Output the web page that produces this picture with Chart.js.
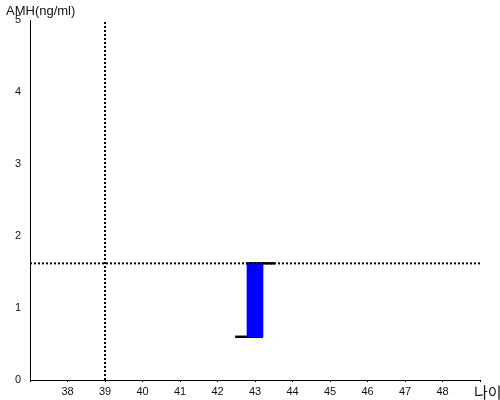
<!DOCTYPE html>
<html>
<head>
<meta charset="utf-8">
<script src="https://cdn.jsdelivr.net/npm/chart.js@4"></script>
<style>
  body { margin: 0; background: #fff; }
  #wrap { width: 500px; height: 400px; position: relative; }
</style>
</head>
<body>
<div id="wrap"><canvas id="myChart"></canvas></div>
<script>
// values
let xMin = 37, xMax = 49;
let yMin = 0, yMax = 5;
let barAge = 43;
let amhLow = 0.6;
let amhHigh = 1.62;
let refAge = 39;
let refAmh = 1.62;
let topCap = [42.76, 43.53];
let bottomCap = [42.47, 43.21];

let yTitle = 'AMH(ng/ml)';
let xTitle = '나이';

// axis titles drawn in the corners like the original
let cornerText = {
    id: 'cornerText',
    afterDraw(chart) {
        let c = chart.ctx;
        c.save();
        c.fillStyle = '#111';
        c.textBaseline = 'alphabetic';
        c.font = '13px "Liberation Sans", Arial, sans-serif';
        c.textAlign = 'left';
        c.fillText(yTitle, 6, 15);
        c.font = '15px "Noto Sans CJK KR", sans-serif';
        c.fillText(xTitle, 474, 398);
        c.restore();
    }
};

let ctx = document.getElementById('myChart');
let myChart = new Chart(ctx, {
    type: 'bar',
    data: {
        datasets: [
            {
                type: 'line',
                data: [{x: refAge, y: yMin}, {x: refAge, y: yMax}],
                borderColor: '#000',
                borderWidth: 2,
                borderDash: [2, 2],
                pointRadius: 0
            },
            {
                type: 'line',
                data: [{x: xMin, y: refAmh}, {x: xMax, y: refAmh}],
                borderColor: '#000',
                borderWidth: 2,
                borderDash: [2, 2],
                pointRadius: 0
            },
            {
                data: [{x: barAge, y: [amhLow, amhHigh]}],
                backgroundColor: '#0000ff',
                borderWidth: 0,
                barThickness: 16
            },
            {
                type: 'line',
                data: [{x: topCap[0], y: amhHigh}, {x: topCap[1], y: amhHigh}],
                borderColor: '#000',
                borderWidth: 2.5,
                pointRadius: 0
            },
            {
                type: 'line',
                data: [{x: bottomCap[0], y: amhLow}, {x: bottomCap[1], y: amhLow}],
                borderColor: '#000',
                borderWidth: 2.5,
                pointRadius: 0
            }
        ]
    },
    options: {
        responsive: true,
        maintainAspectRatio: false,
        animation: false,
        layout: { padding: { top: 20, right: 20, left: 0, bottom: 0 } },
        plugins: { legend: { display: false }, tooltip: { enabled: false } },
        scales: {
            x: {
                type: 'linear',
                min: xMin,
                max: xMax,
                offset: false,
                grid: { offset: false, drawOnChartArea: false, drawTicks: true, tickLength: 2, color: '#000' },
                border: { display: true, color: '#000', width: 1 },
                ticks: {
                    stepSize: 1,
                    padding: 3,
                    color: '#111',
                    font: { family: '"Liberation Sans", Arial, sans-serif', size: 11 },
                    callback: function (v) {
                        if (v == xMin || v == xMax) return '';
                        return v;
                    }
                },
                afterFit: function (scale) { scale.height = 20; }
            },
            y: {
                min: yMin,
                max: yMax,
                grid: { display: false, drawTicks: false },
                border: { display: true, color: '#000', width: 1 },
                ticks: {
                    stepSize: 1,
                    padding: 9,
                    color: '#111',
                    font: { family: '"Liberation Sans", Arial, sans-serif', size: 11 }
                },
                afterFit: function (scale) { scale.width = 30; }
            }
        }
    },
    plugins: [cornerText]
});
</script>
</body>
</html>
